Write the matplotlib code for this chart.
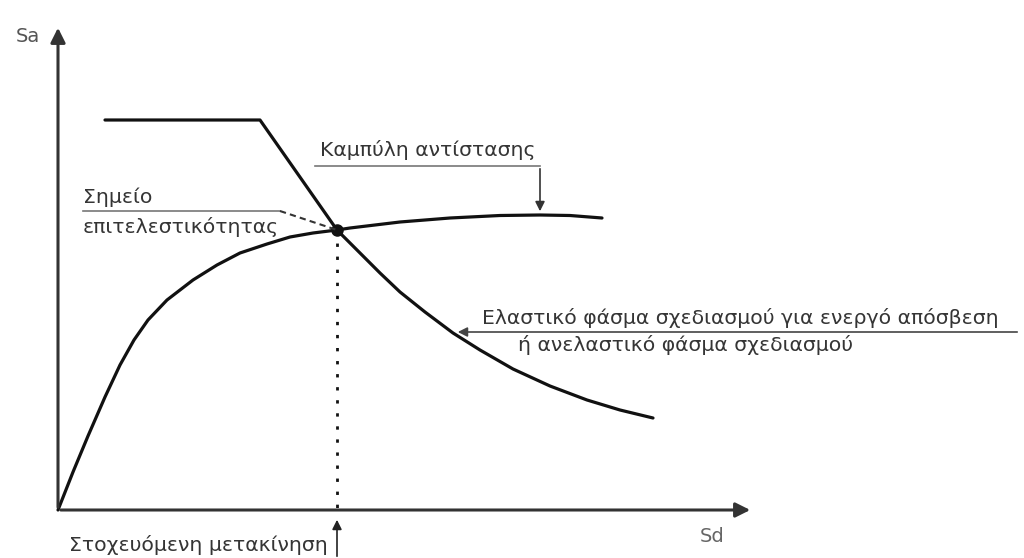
import numpy as np
import matplotlib.pyplot as plt

# capacity curve (Sd, Sa)
cap_sd = [0, 1.5, 3.0, 4.7, 6.2, 7.6, 9.0, 10.9, 13.5, 15.9, 18.2, 20.9, 23.2, 25.5, 27.9,
          29.2, 34.2, 39.2, 44.2, 48.2, 51.2, 54.4]
cap_sa = [0, 3.8, 7.4, 11.3, 14.5, 17.0, 19.0, 21.0, 23.0, 24.5, 25.7, 26.6, 27.3, 27.7, 28.0,
          28.2, 28.8, 29.2, 29.45, 29.5, 29.45, 29.2]

# design spectrum (Sd, Sa)
spec_sd = [4.7, 20.2, 27.9, 30.2, 32.2, 34.2, 36.7, 39.5, 42.2, 45.5, 49.2, 52.9, 56.2, 59.5]
spec_sa = [39.0, 39.0, 28.0, 25.7, 23.7, 21.8, 19.8, 17.7, 16.0, 14.1, 12.4, 11.0, 10.0, 9.2]

# performance point
pp_sd, pp_sa = 27.9, 28.0

txt_c = '#353535'
line_c = '#111111'
fs = 14.7

fig = plt.figure(figsize=(10.24, 5.58), dpi=100)
ax = fig.add_axes([0, 0, 1, 1])
ax.set_xlim(-5.8, 96.6)
ax.set_ylim(-4.8, 51.0)
ax.axis('off')

# axes with arrows
ax.annotate('', xy=(0, 48.5), xytext=(0, 0),
            arrowprops=dict(arrowstyle='-|>', color='#333333', lw=2.2, mutation_scale=22))
ax.annotate('', xy=(69.5, 0), xytext=(0, 0),
            arrowprops=dict(arrowstyle='-|>', color='#333333', lw=2.2, mutation_scale=22))
ax.text(-3.0, 47.3, 'Sa', fontsize=14, color='#555555', ha='center', va='center')
ax.text(65.4, -2.7, 'Sd', fontsize=14, color='#666666', ha='center', va='center')

# curves
ax.plot(cap_sd, cap_sa, color=line_c, lw=2.3, solid_capstyle='round', solid_joinstyle='round')
ax.plot(spec_sd, spec_sa, color=line_c, lw=2.3, solid_capstyle='round', solid_joinstyle='round')
ax.plot(pp_sd, pp_sa, 'o', color=line_c, ms=8)
ax.plot([pp_sd, pp_sd], [pp_sa, 0], color=line_c, lw=2, ls=(0, (1.2, 3.5)))

# capacity curve label
ax.text(26.2, 36.0, 'Καμπύλη αντίστασης', fontsize=fs, color=txt_c, va='center')
ax.plot([25.7, 48.2], [34.4, 34.4], color='#777777', lw=1.2)
ax.annotate('', xy=(48.2, 29.6), xytext=(48.2, 34.4),
            arrowprops=dict(arrowstyle='-|>', color='#333333', lw=1.2, mutation_scale=14))

# performance point label
ax.text(2.5, 31.3, 'Σημείο', fontsize=fs, color=txt_c, va='center')
ax.text(2.5, 28.3, 'επιτελεστικότητας', fontsize=fs, color=txt_c, va='center')
ax.plot([2.5, 22.2], [29.9, 29.9], color='#777777', lw=1.2)
ax.plot([22.2, pp_sd], [29.9, pp_sa], color='#333333', lw=1.5, ls=(0, (3, 2)))

# spectrum label
ax.text(42.4, 19.2, 'Ελαστικό φάσμα σχεδιασμού για ενεργό απόσβεση',
        fontsize=fs, color=txt_c, va='center')
ax.text(46.0, 16.5, 'ή ανελαστικό φάσμα σχεδιασμού', fontsize=fs, color=txt_c, va='center')
ax.annotate('', xy=(39.7, 17.8), xytext=(96.2, 17.8),
            arrowprops=dict(arrowstyle='-|>', color='#444444', lw=1.2, mutation_scale=14))

# target displacement label
ax.text(27.0, -3.5, 'Στοχευόμενη μετακίνηση', fontsize=fs, color=txt_c, ha='right', va='center')
ax.annotate('', xy=(pp_sd, -0.7), xytext=(pp_sd, -4.9),
            arrowprops=dict(arrowstyle='-|>', color='#222222', lw=1.2, mutation_scale=14))

fig.savefig('out.png', dpi=100)
